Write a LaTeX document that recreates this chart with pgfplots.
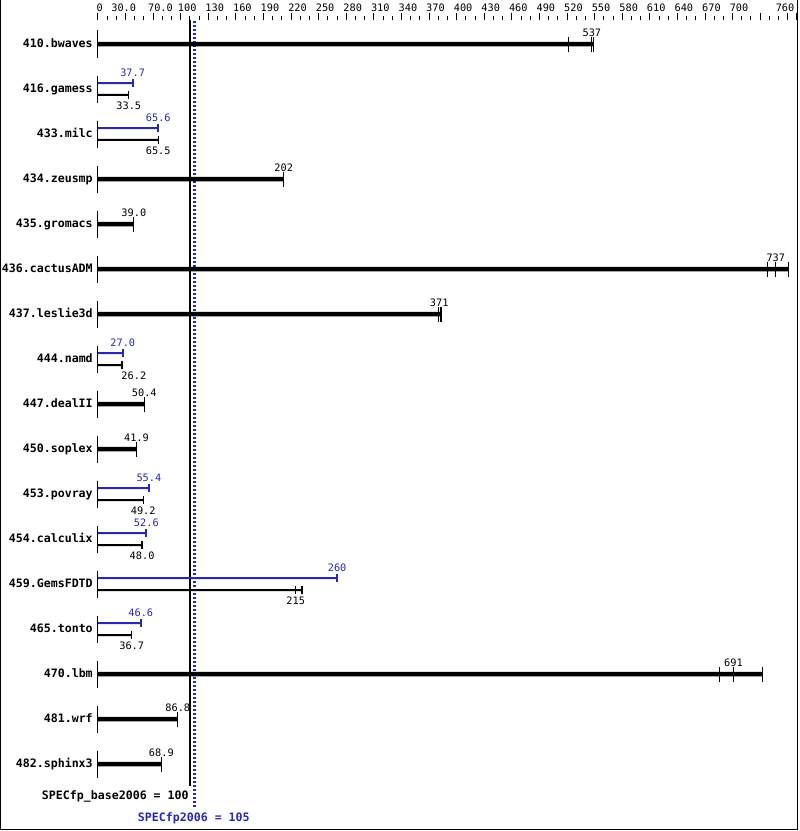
\documentclass[border=0pt]{standalone}
\usepackage{pgfplots}
\pgfplotsset{compat=1.18}
\usepackage{pgfplotstable}
\usepackage{fontspec}
\setmonofont{DejaVu Sans Mono}
\definecolor{specblue}{RGB}{40,40,176}

% one pixel of the reference is 0.75pt; rows are 45px apart
\newcommand{\namefont}{\ttfamily\bfseries\fontsize{8.7}{9}\selectfont}
\newcommand{\numfont}{\ttfamily\fontsize{7.7}{8}\selectfont}

\pgfplotstableread{
row name
0  410.bwaves
1  416.gamess
2  433.milc
3  434.zeusmp
4  435.gromacs
5  436.cactusADM
6  437.leslie3d
7  444.namd
8  447.dealII
9  450.soplex
10 453.povray
11 454.calculix
12 459.GemsFDTD
13 465.tonto
14 470.lbm
15 481.wrf
16 482.sphinx3
}\names

% base only rows: bar to the slowest run, label at the median
\pgfplotstableread{
row med max
0  537  539
3  202  202
4  39.0 39.0
5  737  751
6  371  373.5
8  50.4 50.4
9  41.9 41.9
14 691  723
15 86.8 86.8
16 68.9 68.9
}\single

\pgfplotstableread{
row run
0  512
0  537
0  539
3  202
4  39.0
5  728
5  737
5  751
6  370
6  372
6  373.5
8  50.4
9  41.9
14 676
14 691
14 723
15 86.8
16 68.9
}\singleruns

\pgfplotstableread{
row peak
1  37.7
2  65.6
7  27.0
10 55.4
11 52.6
12 260
13 46.6
}\peak

\pgfplotstableread{
row base max lx
1  33.5 33.5 33.5
2  65.5 65.5 65.5
7  26.2 26.2 39
10 49.2 49.2 49.2
11 48.0 48.0 48.0
12 215  222  215
13 36.7 36.7 36.7
}\base

\pgfplotstableread{
row run
1  33.5
2  65.5
7  26.2
10 49.2
11 48.0
12 215
12 222
13 36.7
}\baseruns

\begin{document}
\begin{tikzpicture}
\useasboundingbox (0,0) rectangle (599.25pt,623.25pt);

% scale along the top
\begin{axis}[
  at={(0pt,607.25pt)}, anchor=south west,
  scale only axis, width=599.25pt, height=1pt,
  xmin=-106.5, xmax=762.2, ymin=0, ymax=1,
  axis x line*=top, axis y line=none,
  x axis line style={draw=none},
  tick align=outside,
  xtick={0,30,...,750,760},
  minor xtick={0,10,...,760},
  xticklabels={},
  major tick length=5.25pt, minor tick length=3pt,
  every tick/.style={black, line width=0.75pt},
  extra x ticks={2,28,68,97,127,157,187,217,247,277,307,337,367,397,427,457,487,517,547,577,607,637,667,697,747},
  extra x tick labels={0,30.0,70.0,100,130,160,190,220,250,280,310,340,370,400,430,460,490,520,550,580,610,640,670,700,760},
  extra x tick style={major tick length=0pt,
    xticklabel style={anchor=base, yshift=6.5pt, inner sep=0pt}},
  tick label style={font=\numfont},
]
\end{axis}

\begin{axis}[
  at={(0pt,0pt)}, anchor=south west,
  scale only axis, width=599.25pt, height=623.25pt,
  xmin=-106.5, xmax=762.2, ymin=-0.9778, ymax=17.4889, y dir=reverse,
  hide axis, clip=false,
  every node near coord/.append style={anchor=base, inner sep=0pt},
]
% reference lines
\addplot[specblue, line width=1.6pt, dash pattern=on 1.5pt off 1.5pt]
  coordinates {(105,-0.511) (105,16.956)};
\addplot[black, line width=1.9pt] coordinates {(100,-0.533) (100,16.489)};

% start of every row
\addplot[only marks, mark=|, mark size=10.125pt, mark options={line width=0.75pt}]
  table[x expr=0, y=row] \names;

% base only rows
\addplot[xbar, bar shift=0pt, bar width=3.375pt, fill=black, draw=none]
  table[x=max, y=row] \single;
\addplot[only marks, mark=|, mark size=5.625pt, mark options={line width=0.75pt}]
  table[x=run, y=row] \singleruns;

% peak and base rows
\addplot[xbar, bar shift=0pt, bar width=1.5pt, fill=specblue, draw=none]
  table[x=peak, y expr=\thisrow{row}-0.1333] \peak;
\addplot[only marks, mark=|, mark size=3pt, mark options={specblue, line width=1.5pt}]
  table[x=peak, y expr=\thisrow{row}-0.1333] \peak;
\addplot[xbar, bar shift=0pt, bar width=1.5pt, fill=black, draw=none]
  table[x=max, y expr=\thisrow{row}+0.1333] \base;
\addplot[only marks, mark=|, mark size=3pt, mark options={line width=1pt}]
  table[x=run, y expr=\thisrow{row}+0.1333] \baseruns;

% text
\addplot[draw=none, nodes near coords, point meta=explicit symbolic,
  every node near coord/.append style={anchor=base east, font=\namefont}]
  table[x expr=-5.4, y expr=\thisrow{row}+0.0778, meta=name] \names;
\addplot[draw=none, nodes near coords, point meta=explicit symbolic,
  every node near coord/.append style={font=\numfont}]
  table[x=med, y expr=\thisrow{row}-0.1667, meta=med] \single;
\addplot[draw=none, nodes near coords, point meta=explicit symbolic,
  every node near coord/.append style={font=\numfont, text=specblue}]
  table[x=peak, y expr=\thisrow{row}-0.2822, meta=peak] \peak;
\addplot[draw=none, nodes near coords, point meta=explicit symbolic,
  every node near coord/.append style={font=\numfont}]
  table[x=lx, y expr=\thisrow{row}+0.4578, meta=base] \base;

\node[anchor=base east, inner sep=0pt, font=\namefont] at (axis cs:98.9,16.778) {SPECfp\_base2006 = 100};
\node[anchor=base west, inner sep=0pt, font=\namefont, text=specblue] at (axis cs:43.2,17.282) {SPECfp2006 = 105};

% frame
\draw[line width=0.75pt] (axis description cs:0.0005,1) -- (axis description cs:0.0005,0.002)
  -- (axis description cs:0.998,0.002) -- (axis description cs:0.998,1);
\end{axis}
\end{tikzpicture}
\end{document}
